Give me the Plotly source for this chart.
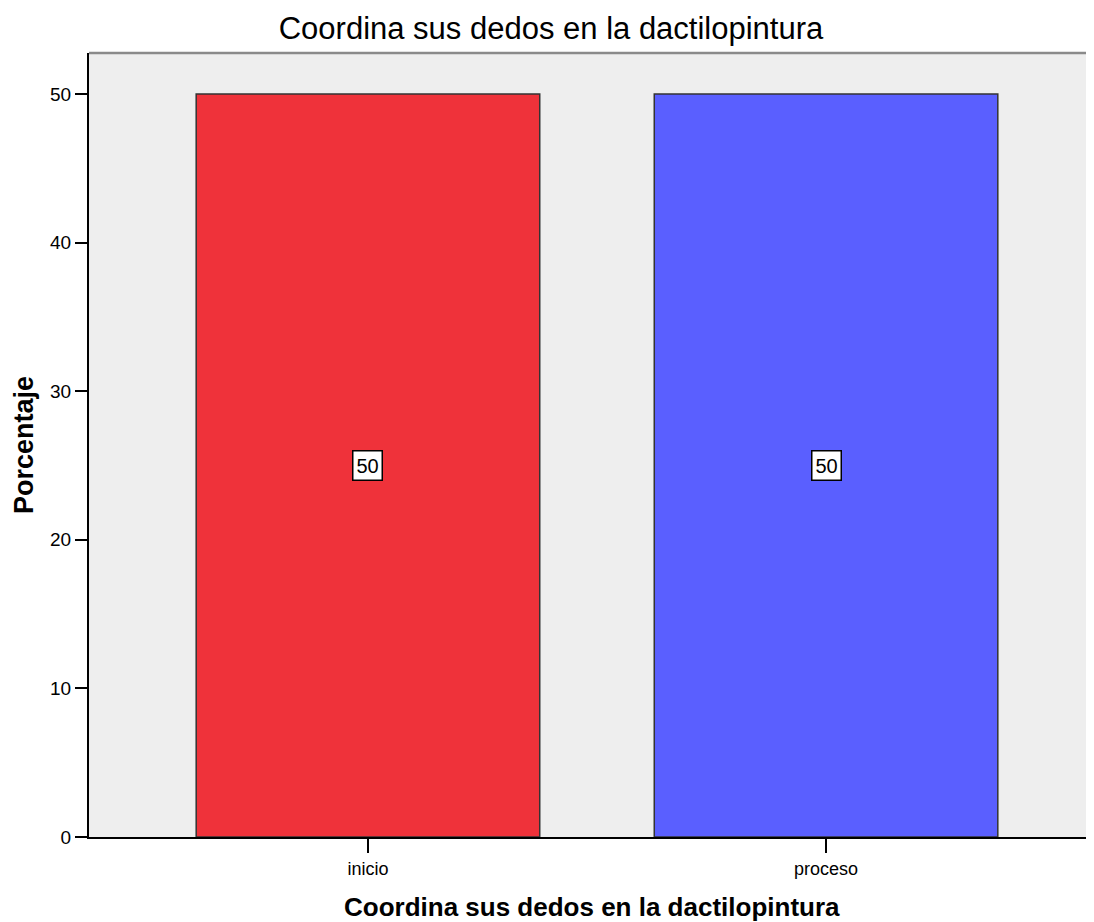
import plotly.graph_objects as go

categories = ["inicio", "proceso"]
values = [50, 50]
colors = ["#EF323A", "#5A5FFF"]
y_ticks = [0, 10, 20, 30, 40, 50]
title_text = "Coordina sus dedos en la dactilopintura"
x_title = "Coordina sus dedos en la dactilopintura"
y_title = "Porcentaje"

FONT = "Arial, Liberation Sans, sans-serif"

fig = go.Figure()
fig.add_trace(go.Bar(
    x=[0, 1], y=values, width=0.75,
    marker=dict(color=colors, line=dict(color="#333333", width=1.5)),
    hoverinfo="skip",
))

for i, v in enumerate(values):
    fig.add_annotation(
        x=i, y=v / 2, text=str(v), showarrow=False,
        font=dict(family=FONT, size=20, color="black"),
        bgcolor="white", bordercolor="black", borderwidth=1.5, borderpad=3,
    )

# axis titles
fig.add_annotation(xref="paper", yref="paper", x=0.5, y=0, yanchor="middle",
                   yshift=-70, text="<b>" + x_title + "</b>", showarrow=False,
                   font=dict(family=FONT, size=26, color="black"))
fig.add_annotation(xref="paper", yref="paper", x=0, y=0.5, xanchor="center",
                   xshift=-65, text="<b>" + y_title + "</b>", showarrow=False,
                   textangle=-90, font=dict(family=FONT, size=27, color="black"))

# top frame line
fig.add_shape(type="line", xref="paper", yref="paper", x0=0, x1=1, y0=1, y1=1,
              line=dict(color="#8A8A8A", width=2.5))

W, H = 1086, 914
fig.update_layout(
    width=W, height=H,
    margin=dict(l=81, r=0, t=45, b=85),
    paper_bgcolor="white", plot_bgcolor="#EEEEEE",
    showlegend=False,
    font=dict(family=FONT, size=19, color="black"),
    title=dict(text=title_text, x=0.5, xanchor="center", xref="container",
               y=1 - 20 / H, yanchor="middle", yref="container",
               font=dict(family=FONT, size=31, color="black")),
    xaxis=dict(
        range=[-0.609, 1.585], tickvals=[0, 1], ticktext=categories,
        ticks="outside", ticklen=14, tickcolor="black", tickwidth=1.5,
        showline=True, linecolor="black", linewidth=2, showgrid=False, zeroline=False,
        tickfont=dict(family=FONT, size=18, color="black"),
    ),
    yaxis=dict(
        range=[0, 52.76], tickvals=y_ticks,
        ticks="outside", ticklen=12, tickcolor="black", tickwidth=1.5,
        showline=True, linecolor="black", linewidth=2, showgrid=False, zeroline=False,
        tickfont=dict(family=FONT, size=19, color="black"),
    ),
)

fig.write_html("out.html")
